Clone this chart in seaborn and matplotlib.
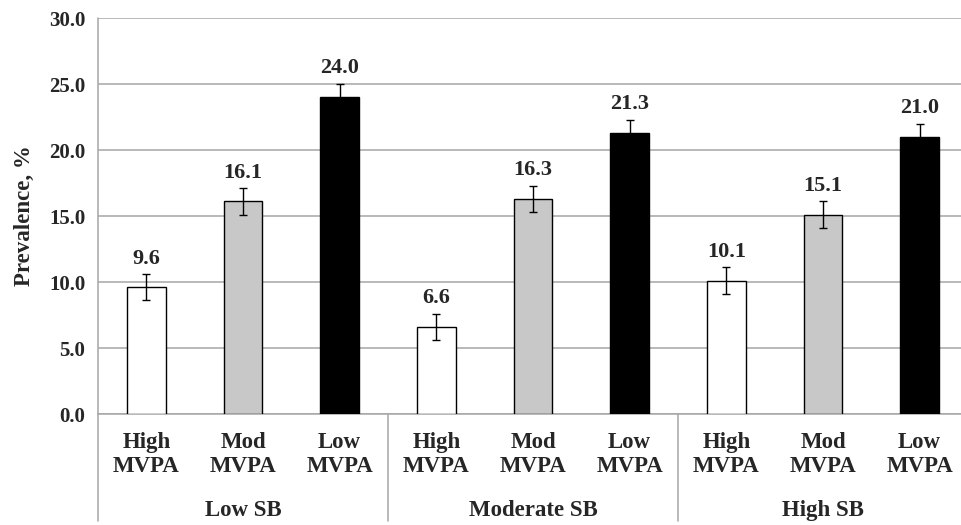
import pandas as pd
import seaborn as sns
import matplotlib.pyplot as plt
import matplotlib.transforms as mtransforms

# Values
sb_groups = ['Low SB', 'Moderate SB', 'High SB']
mvpa_levels = ['High', 'Mod', 'Low']
prevalence = [9.6, 16.1, 24.0, 6.6, 16.3, 21.3, 10.1, 15.1, 21.0]
err = [1.0, 1.0, 1.0, 1.0, 1.0, 1.0, 1.0, 1.0, 1.0]
y_ticks = [0, 5, 10, 15, 20, 25, 30]

rows = []
i = 0
for sb in sb_groups:
    for mv in mvpa_levels:
        rows.append({'key': f'{sb}|{mv}', 'SB': sb, 'MVPA': mv,
                     'Prevalence': prevalence[i], 'err': err[i]})
        i += 1
df = pd.DataFrame(rows)

sns.set_style('white')
plt.rcParams['font.family'] = ['Liberation Serif', 'DejaVu Serif']
plt.rcParams['font.weight'] = 'bold'

fig = plt.figure(figsize=(9.62, 5.25), dpi=100)
ax = fig.add_axes([98 / 962, 111 / 525, 870 / 962, 396 / 525])

colors = {'High': 'white', 'Mod': '#c8c8c8', 'Low': 'black'}
sns.barplot(data=df, x='key', y='Prevalence', hue='MVPA', palette=colors,
            dodge=False, width=0.4, edgecolor='black', linewidth=1.0,
            legend=False, ax=ax, zorder=3)

xs = range(len(df))
ax.errorbar(xs, df['Prevalence'], yerr=df['err'], fmt='none', ecolor='black',
            elinewidth=1.0, capsize=2.8, capthick=1.0, zorder=4)

for x, v, e in zip(xs, df['Prevalence'], df['err']):
    ax.annotate(f'{v:.1f}', (x, v + e), xytext=(0, 4), textcoords='offset points',
                ha='center', va='bottom', fontsize=16, fontweight='bold')

ax.set_ylim(0, 30)
ax.set_xlim(-0.5, len(df) - 0.5)
ax.set_yticks(y_ticks)
ax.set_yticklabels([f'{t:.1f}' for t in y_ticks], fontsize=15, fontweight='bold')
ax.set_xticks(list(xs))
ax.set_xticklabels([f'{m}\nMVPA' for m in df['MVPA']], fontsize=16.5,
                   fontweight='bold', linespacing=1.2)
ax.tick_params(axis='both', length=0)
ax.tick_params(axis='x', pad=13)
ax.tick_params(axis='y', pad=9)
ax.set_xlabel('')
ax.set_ylabel('Prevalence, %', fontsize=16.5, fontweight='bold', labelpad=10)

ax.grid(axis='y', color='#a6a6a6', linewidth=1.1, zorder=0)
for s in ['top', 'right']:
    ax.spines[s].set_visible(False)
ax.spines['left'].set_visible(False)
ax.spines['bottom'].set_color('#a6a6a6')
ax.spines['bottom'].set_linewidth(1.1)

# group separators and group labels below the axis
trans = mtransforms.blended_transform_factory(ax.transData, ax.transAxes)
for b in [-0.5, 2.5, 5.5, 8.5]:
    ax.plot([b, b], [1.0 if b == -0.5 else 0.0, -0.27], transform=trans,
            color='#a6a6a6', linewidth=1.1, clip_on=False, zorder=5)
for g, sb in enumerate(sb_groups):
    ax.text(g * 3 + 1, -0.243, sb, transform=trans, ha='center', va='center',
            fontsize=16.5, fontweight='bold')

fig.savefig('out.png', dpi=100)
